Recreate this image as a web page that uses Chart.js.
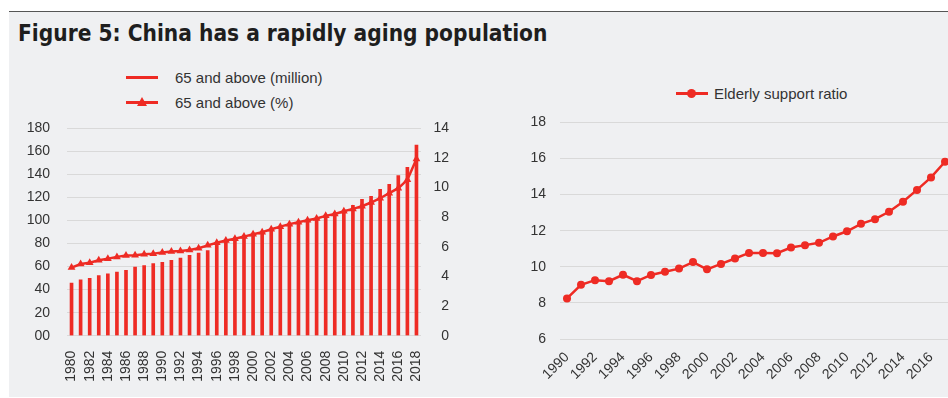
<!DOCTYPE html>
<html>
<head>
<meta charset="utf-8">
<script src="https://cdn.jsdelivr.net/npm/chart.js@4/dist/chart.umd.min.js"></script>
<style>
  html, body { margin: 0; padding: 0; background: #fff; width: 948px; height: 398px; overflow: hidden; }
  #panel { position: absolute; left: 9px; top: 11px; width: 939px; height: 385px; background: #eff0f2; border-top: 1px solid #555; }
  #title { position: absolute; left: 18px; top: 20px; font-family: "Liberation Sans Narrow", "DejaVu Sans Condensed", sans-serif; font-weight: bold; font-size: 22.5px; color: #1e1e1e; white-space: nowrap; }
  .legend { position: absolute; font-family: "Liberation Sans", Arial, sans-serif; font-size: 15px; color: #333; white-space: nowrap; }
  .legend .row { position: relative; height: 25px; line-height: 25px; }
  .legend .sw { position: absolute; left: 0; top: 11px; width: 32px; height: 2.5px; background: #ee2b24; }
  .legend .tri { position: absolute; left: 11px; top: -4px; width: 0; height: 0; border-left: 5px solid transparent; border-right: 5px solid transparent; border-bottom: 9px solid #ee2b24; }
  .legend .dot { position: absolute; left: 11px; top: -3px; width: 9px; height: 9px; border-radius: 50%; background: #ee2b24; }
  canvas { position: absolute; }
</style>
</head>
<body>
<div id="panel"></div>
<div id="title">Figure 5: China has a rapidly aging population</div>

<div class="legend" style="left:126px; top:65px;">
  <div class="row"><span class="sw"></span><span style="margin-left:49px">65 and above (million)</span></div>
  <div class="row"><span class="sw"><span class="tri"></span></span><span style="margin-left:49px">65 and above (%)</span></div>
</div>
<div class="legend" style="left:676px; top:81px;">
  <div class="row"><span class="sw"><span class="dot"></span></span><span style="margin-left:38px">Elderly support ratio</span></div>
</div>

<div style="position:absolute; left:0; top:100px; width:449px; height:298px;"><canvas id="popChart"></canvas></div>
<div style="position:absolute; left:470px; top:100px; width:486px; height:298px;"><canvas id="ratioChart"></canvas></div>

<script>
// data
const popYears = ['1980','1981','1982','1983','1984','1985','1986','1987','1988','1989',
  '1990','1991','1992','1993','1994','1995','1996','1997','1998','1999',
  '2000','2001','2002','2003','2004','2005','2006','2007','2008','2009',
  '2010','2011','2012','2013','2014','2015','2016','2017','2018'];
const over65Million = [45.7, 48.4, 49.8, 52.1, 53.8, 55.3, 56.8, 59.6, 60.8, 62.5,
  63.7, 65.4, 67.4, 69.8, 71.8, 73.8, 80, 82, 83.5, 85.5,
  87.5, 89, 92, 94, 96, 98, 100.5, 102, 105, 107,
  109.1, 113.2, 118.4, 121, 127.1, 131.4, 138.9, 146.2, 165.5];
const over65Pct = [4.6, 4.84, 4.93, 5.09, 5.2, 5.32, 5.41, 5.43, 5.5, 5.54,
  5.61, 5.68, 5.72, 5.79, 5.9, 6.1, 6.27, 6.42, 6.55, 6.69,
  6.85, 6.98, 7.19, 7.36, 7.53, 7.66, 7.8, 7.91, 8.09, 8.22,
  8.4, 8.56, 8.74, 8.99, 9.28, 9.62, 9.96, 10.52, 11.92];

const ratioYears = ['1990','1991','1992','1993','1994','1995','1996','1997','1998','1999',
  '2000','2001','2002','2003','2004','2005','2006','2007','2008','2009',
  '2010','2011','2012','2013','2014','2015','2016','2017'];
const supportRatio = [8.25, 9.0, 9.26, 9.2, 9.56, 9.2, 9.55, 9.73, 9.9, 10.26,
  9.86, 10.16, 10.46, 10.77, 10.77, 10.75, 11.07, 11.2, 11.33, 11.68,
  11.97, 12.38, 12.64, 13.05, 13.6, 14.26, 14.95, 15.82];

const RED = '#ee2b24';
const GRID = '#d9d9d9';
const TXT = '#333333';
const tickFont = { family: '"Liberation Sans", Arial, sans-serif', size: 14 };

Chart.defaults.animation = false;
Chart.defaults.maintainAspectRatio = false;
Chart.defaults.responsive = true;

// every other year label, like the reference
function everyOther(val, idx) {
  return idx % 2 === 0 ? this.getLabelForValue(val) : '';
}

new Chart(document.getElementById('popChart'), {
  type: 'bar',
  data: {
    labels: popYears,
    datasets: [
      {
        type: 'line',
        label: '65 and above (%)',
        data: over65Pct,
        yAxisID: 'yPct',
        borderColor: RED,
        backgroundColor: RED,
        borderWidth: 2.5,
        pointStyle: 'triangle',
        pointRadius: 4.5,
        pointBorderWidth: 0,
        tension: 0,
        order: 0
      },
      {
        label: '65 and above (million)',
        data: over65Million,
        yAxisID: 'yMil',
        backgroundColor: RED,
        barThickness: 3,
        order: 1
      }
    ]
  },
  options: {
    layout: { padding: { top: 28.3, left: 0, right: 0, bottom: 0 } },
    plugins: { legend: { display: false }, tooltip: { enabled: false } },
    scales: {
      x: {
        offset: true,
        grid: { display: false, drawTicks: false },
        border: { display: false },
        ticks: { autoSkip: false, minRotation: 90, maxRotation: 90, padding: 15, color: TXT, font: tickFont, callback: everyOther },
        afterFit: s => { s.height = 62.3; s.paddingLeft = 0; s.paddingRight = 0; }
      },
      yMil: {
        position: 'left',
        min: 0, max: 180,
        grid: { color: GRID, lineWidth: 1, drawTicks: false },
        border: { display: false },
        ticks: { stepSize: 20, padding: 17, color: TXT, font: tickFont, callback: v => v === 0 ? '00' : v },
        afterFit: s => { s.width = 67; }
      },
      yPct: {
        position: 'right',
        min: 0, max: 14,
        grid: { display: false, drawTicks: false },
        border: { display: false },
        ticks: { stepSize: 2, crossAlign: 'far', color: TXT, font: tickFont },
        afterFit: s => { s.width = 28; }
      }
    }
  }
});

new Chart(document.getElementById('ratioChart'), {
  type: 'line',
  data: {
    labels: ratioYears,
    datasets: [{
      label: 'Elderly support ratio',
      data: supportRatio,
      borderColor: RED,
      backgroundColor: RED,
      borderWidth: 2.5,
      pointStyle: 'circle',
      pointRadius: 4,
      pointBorderWidth: 0,
      tension: 0
    }]
  },
  options: {
    layout: { padding: { top: 21.7, left: 0, right: 0, bottom: 0 } },
    plugins: { legend: { display: false }, tooltip: { enabled: false } },
    scales: {
      x: {
        offset: true,
        grid: { display: false, drawTicks: false },
        border: { display: false },
        ticks: { autoSkip: false, minRotation: 45, maxRotation: 45, padding: 10, color: TXT, font: tickFont, callback: everyOther },
        afterFit: s => { s.height = 59; s.paddingLeft = 0; s.paddingRight = 0; }
      },
      y: {
        min: 6, max: 18,
        grid: { color: GRID, lineWidth: 1, drawTicks: false },
        border: { display: false },
        ticks: { stepSize: 2, padding: 14, color: TXT, font: tickFont },
        afterFit: s => { s.width = 90; }
      }
    }
  }
});
</script>
</body>
</html>
